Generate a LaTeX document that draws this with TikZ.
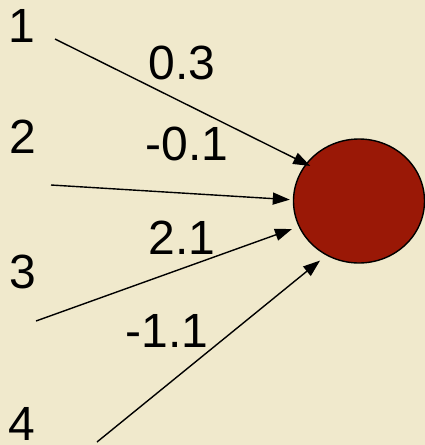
\documentclass[tikz,border=0pt]{standalone}
\usepackage{fontspec}
\setmainfont{Liberation Sans}
\usepackage{xcolor}
\usetikzlibrary{arrows.meta,shapes.geometric}
\definecolor{paper}{RGB}{240,233,204}
\definecolor{cellred}{RGB}{154,24,6}
\tikzset{
  inp/.style   ={inner sep=0pt,font=\fontsize{48}{54}\selectfont},
  wgt/.style   ={inner sep=0pt,font=\fontsize{48}{54}\selectfont},
  soma/.style  ={ellipse,draw,line width=1.4pt,fill=cellred,minimum width=131pt,minimum height=124pt,inner sep=0pt},
  flow/.style  ={-{Triangle[length=17pt,width=12pt]},line width=1.4pt},
}
\begin{document}
\begin{tikzpicture}[x=1pt,y=-1pt]
  \fill[paper] (0,0) rectangle (425,445);
  \useasboundingbox (0,0) rectangle (425,445);
  \node[soma] (c) at (359,201) {};
  % inputs
  \node[inp] (x1) at (22,26) {1};
  \node[inp] (x2) at (23,137) {2};
  \node[inp] (x3) at (23,272) {3};
  \node[inp] (x4) at (22,424) {4};
  \coordinate (t1) at (55,39);
  \coordinate (t2) at (51,185);
  \coordinate (t3) at (36,321);
  \coordinate (t4) at (97,442);
  % weights
  \node[wgt] (w1) at (182,63) {0.3};
  \node[wgt] (w2) at (187,144) {-0.1};
  \node[wgt] (w3) at (182,238) {2.1};
  \node[wgt] (w4) at (167,331) {-1.1};
  \draw[flow,shorten >=-5pt] (t1) -- (c.145);
  \draw[flow,shorten >=3pt] (t2) -- (c.179);
  \draw[flow,shorten >=7pt] (t3) -- (c.203);
  \draw[flow,shorten >=8pt] (t4) -- (c.239);
\end{tikzpicture}
\end{document}
